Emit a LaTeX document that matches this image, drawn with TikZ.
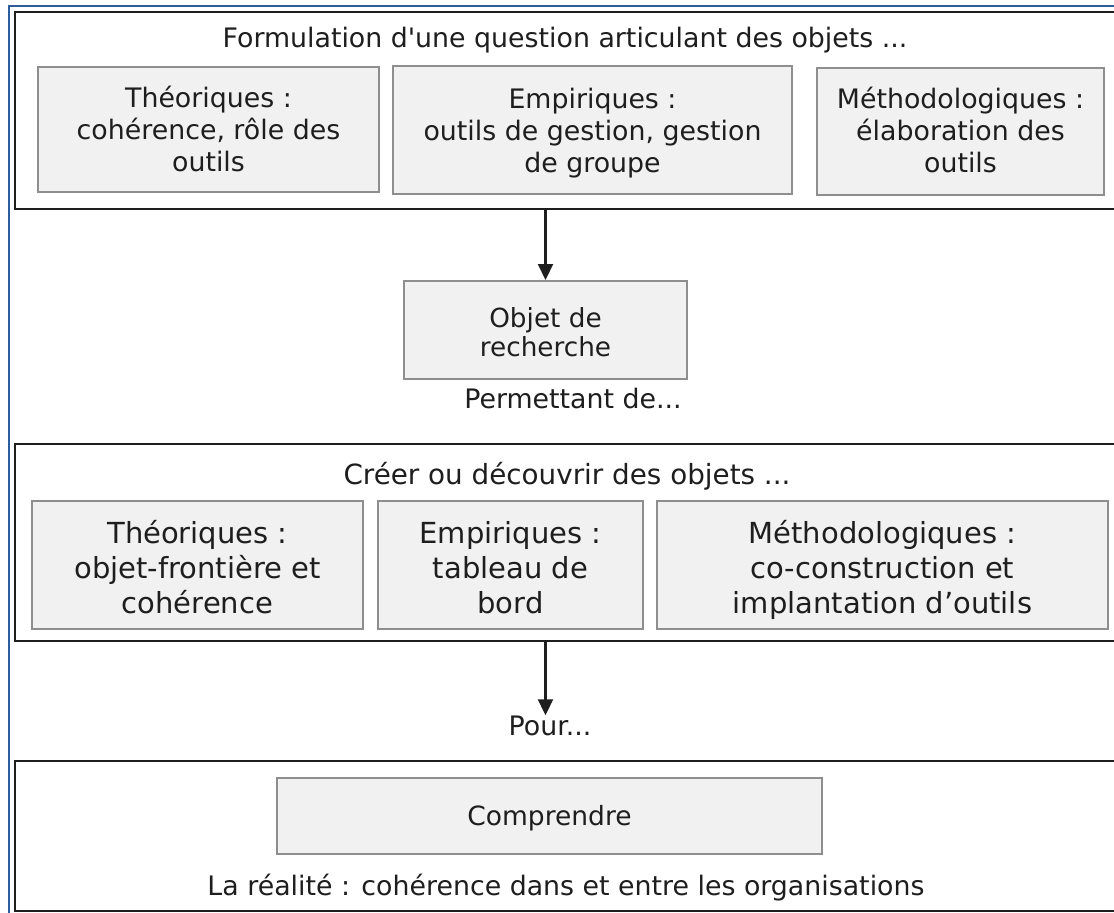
\documentclass[tikz,border=0pt]{standalone}
\usepackage{fontspec}
\setmainfont{DejaVu Sans}
\usetikzlibrary{arrows.meta}
\definecolor{framblue}{HTML}{2E5D9B}
\definecolor{boxfill}{HTML}{F0F1F0}
\definecolor{boxline}{HTML}{8E8E8E}
\definecolor{ink}{HTML}{1E1E1E}
% lower a centred block of lines by #1 without changing the node size
\newcommand\lowerlines[2]{\raisebox{-#1}[\height][\depth]{\begin{tabular}{@{}c@{}}#2\end{tabular}}}
\begin{document}
\begin{tikzpicture}[x=1pt,y=-1pt,
  panel/.style={draw=ink, line width=2.4pt, fill=white, inner sep=0pt, anchor=north west},
  cell/.style={draw=boxline, line width=2pt, fill=boxfill, inner sep=0pt, text=ink},
  lbl/.style={text=ink, inner sep=0pt, anchor=base},
  arr/.style={draw=ink, line width=2.2pt, -{Triangle[width=15pt,length=16pt]}},
  fA/.style={font=\fontsize{26.8}{32}\selectfont},
  fB/.style={font=\fontsize{29}{35}\selectfont},
  fC/.style={font=\fontsize{26.3}{29}\selectfont},
  fD/.style={font=\fontsize{26.5}{30}\selectfont},
  fE/.style={font=\fontsize{27.8}{33}\selectfont}]
\useasboundingbox[fill=white] (0,0) rectangle (1114,913);
% outer blue frame
\draw[framblue, line width=2.4pt] (8.7,925) -- (8.7,6) -- (1125,6);
% panels
\node[panel, minimum width=1115pt, minimum height=197pt] (box1) at (14,11) {};
\node[panel, minimum width=1115pt, minimum height=197pt] (box2) at (14,443) {};
\node[panel, minimum width=1115pt, minimum height=150pt] (box3) at (14,760) {};
% panel 1
\node[lbl, fA] (t1) at (565,47) {Formulation d\textquotesingle une question articulant des objets ...};
\node[cell, fA, minimum width=341pt, minimum height=125pt] (theo1) at (208.5,129.5) {\lowerlines{4pt}{Théoriques :\\cohérence, rôle des\\outils}};
\node[cell, fA, minimum width=399pt, minimum height=128pt] (emp1) at (592.5,130) {\lowerlines{4pt}{Empiriques :\\outils de gestion, gestion\\de groupe}};
\node[cell, fA, minimum width=287pt, minimum height=127pt] (meth1) at (960.5,131) {\lowerlines{3pt}{Méthodologiques :\\élaboration des\\outils}};
% middle
\node[cell, fC, minimum width=283pt, minimum height=98pt] (obj) at (545.5,330) {\lowerlines{6.5pt}{Objet de\\recherche}};
\node[lbl, fA] (perm) at (573,408) {Permettant de...};
% panel 2
\node[lbl, fE] (t2) at (567,484) {Créer ou découvrir des objets ...};
\node[cell, fB, minimum width=331pt, minimum height=128pt] (theo2) at (197.5,565) {\lowerlines{6pt}{Théoriques :\\objet-frontière et\\cohérence}};
\node[cell, fB, minimum width=265pt, minimum height=128pt] (emp2) at (510.5,565) {\lowerlines{6pt}{Empiriques :\\tableau de\\bord}};
\node[cell, fB, minimum width=451pt, minimum height=128pt] (meth2) at (882.5,565) {\lowerlines{6pt}{Méthodologiques :\\co-construction et\\implantation d’outils}};
\node[lbl, fA] (pour) at (550,735) {Pour...};
% panel 3
\node[cell, fD, minimum width=545pt, minimum height=76pt] (comp) at (549.5,816) {\lowerlines{3pt}{Comprendre}};
\node[lbl, fA] (real) at (566,895) {La réalité : cohérence dans et entre les organisations};
% arrows
\draw[arr] (obj.north |- box1.south) -- (obj.north);
\draw[arr] (obj.north |- box2.south) -- (obj.north |- pour.north);
\end{tikzpicture}
\end{document}
